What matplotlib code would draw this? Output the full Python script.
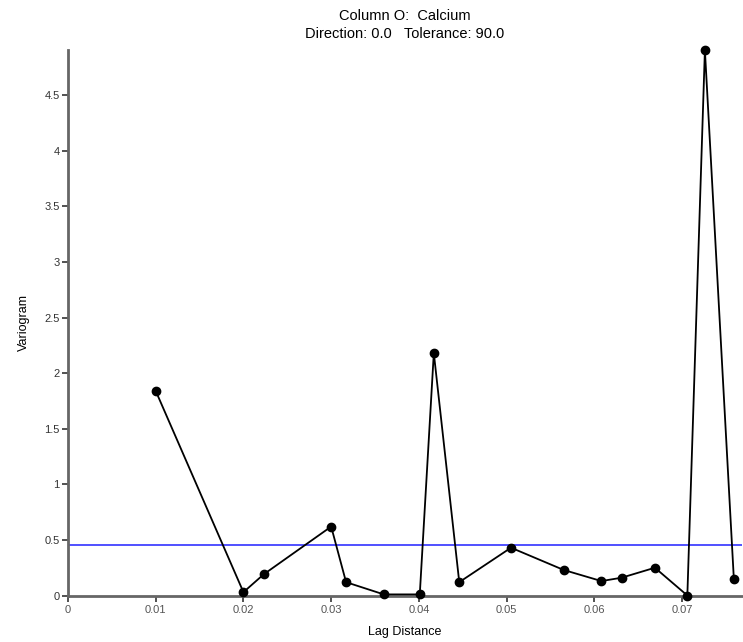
import matplotlib
matplotlib.use("Agg")
import matplotlib.pyplot as plt
from matplotlib.ticker import FuncFormatter

plt.rcParams['font.family'] = ['Liberation Sans', 'DejaVu Sans']

# lag distance and variogram values
lag = [0.0100, 0.0200, 0.0223, 0.0300, 0.0317, 0.0360, 0.0401, 0.0417,
       0.0446, 0.0505, 0.0565, 0.0608, 0.0631, 0.0669, 0.0706, 0.0726, 0.0759]
variogram = [1.84, 0.03, 0.19, 0.62, 0.12, 0.01, 0.01, 2.18,
             0.12, 0.43, 0.23, 0.13, 0.16, 0.25, 0.0, 4.905, 0.15]
sill = 0.454

x_ticks = [0, 0.01, 0.02, 0.03, 0.04, 0.05, 0.06, 0.07]
y_ticks = [0, 0.5, 1, 1.5, 2, 2.5, 3, 3.5, 4, 4.5]

fig = plt.figure(figsize=(7.43, 6.42), dpi=100)
ax = fig.add_axes([0.0915, 0.0724, 0.9068, 0.8496])

ax.axhline(sill, color='#2020ff', lw=1.1, zorder=1)
ax.plot(lag, variogram, color='black', lw=1.3, marker='o', ms=6,
        mfc='black', mec='black', zorder=3, clip_on=False)

ax.set_xlim(0, 0.0768)
ax.set_ylim(0, 4.905)
ax.set_xticks(x_ticks)
ax.set_yticks(y_ticks)
ax.xaxis.set_major_formatter(FuncFormatter(lambda v, p: '%g' % round(v, 3)))
ax.yaxis.set_major_formatter(FuncFormatter(lambda v, p: '%g' % v))

for s in ['top', 'right']:
    ax.spines[s].set_visible(False)
for s in ['left', 'bottom']:
    ax.spines[s].set_color('#666666')
    ax.spines[s].set_linewidth(2)

ax.tick_params(axis='both', direction='out', length=4, width=1.2,
               colors='#333333', labelsize=8, pad=2)
ax.tick_params(axis='x', labelcolor='#555555', pad=3)

ax.set_xlabel('Lag Distance', fontsize=9, labelpad=8)
ax.set_ylabel('Variogram', fontsize=9, labelpad=10)
ax.set_title('Column O:  Calcium\nDirection: 0.0   Tolerance: 90.0',
             fontsize=10.5, linespacing=1.35, pad=9)

fig.savefig('out.png', dpi=100)
